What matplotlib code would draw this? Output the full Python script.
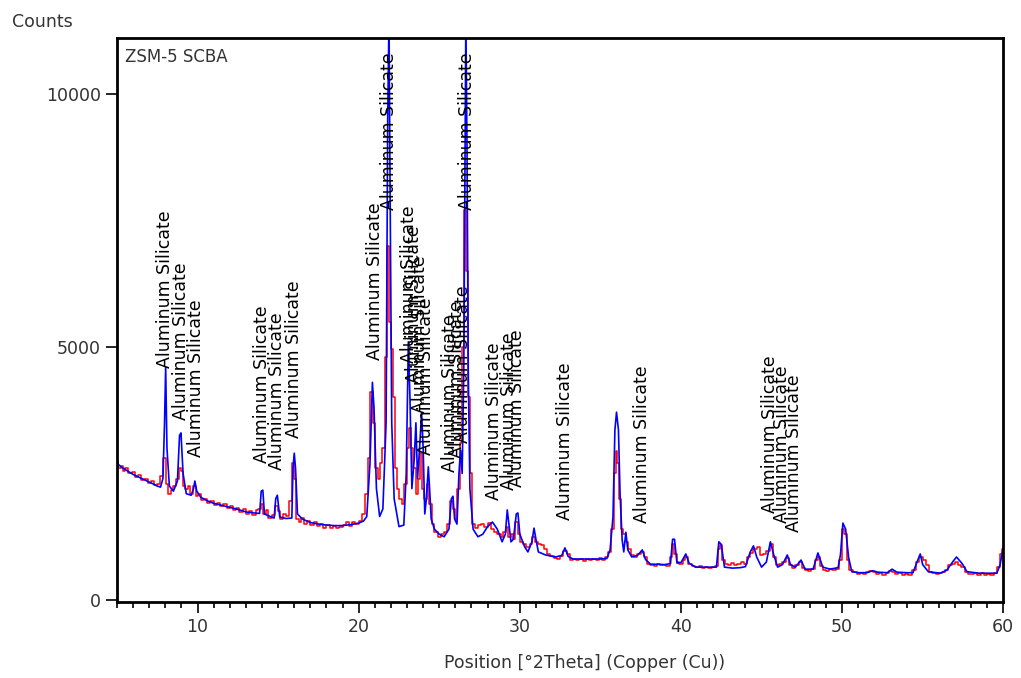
import matplotlib
matplotlib.use("Agg")
import matplotlib.pyplot as plt
from matplotlib.ticker import MultipleLocator

plt.rcParams['font.family'] = ['DejaVu Sans']

# blue pattern (2theta, counts)
blue_2theta = [5.0, 5.3, 5.6, 6.0, 6.4, 6.8, 7.2, 7.5, 7.7, 7.85, 7.95, 8.02, 8.1, 8.25, 8.5, 8.75,
               8.88, 8.97, 9.1, 9.3, 9.6, 9.75, 9.83, 9.95, 10.2, 10.6, 11.0, 11.5, 12.0, 12.5, 13.0,
               13.5, 13.85, 13.95, 14.05, 14.15, 14.5, 14.75, 14.85, 14.95, 15.1, 15.5, 15.85, 15.92,
               16.0, 16.08, 16.2, 16.5, 17.0, 17.5, 18.0, 18.5, 19.0, 19.5, 20.0, 20.3, 20.5, 20.7,
               20.85, 20.95, 21.1, 21.3, 21.5, 21.7, 21.8, 21.88, 21.95, 22.05, 22.2, 22.5, 22.8,
               22.95, 23.08, 23.18, 23.3, 23.45, 23.55, 23.65, 23.78, 23.9, 24.0, 24.1, 24.2, 24.32,
               24.4, 24.5, 24.7, 25.0, 25.3, 25.6, 25.75, 25.85, 25.95, 26.1, 26.22, 26.32, 26.42,
               26.52, 26.6, 26.65, 26.72, 26.8, 26.9, 27.1, 27.4, 27.7, 28.0, 28.3, 28.6, 28.9, 29.1,
               29.22, 29.32, 29.45, 29.6, 29.78, 29.88, 30.0, 30.3, 30.5, 30.75, 30.88, 31.0, 31.15,
               31.6, 32.2, 32.6, 32.8, 33.0, 33.3, 34.0, 35.0, 35.4, 35.6, 35.78, 35.9, 36.0, 36.12,
               36.22, 36.35, 36.45, 36.58, 36.7, 36.95, 37.3, 37.6, 37.8, 38.1, 39.0, 39.35, 39.48,
               39.6, 39.75, 40.0, 40.3, 40.5, 40.9, 41.5, 42.2, 42.35, 42.5, 42.7, 43.2, 43.7, 44.0,
               44.3, 44.5, 44.7, 45.0, 45.3, 45.55, 45.75, 46.0, 46.3, 46.6, 46.8, 47.1, 47.45, 47.7,
               48.2, 48.5, 48.8, 49.25, 49.75, 49.9, 50.05, 50.22, 50.4, 50.6, 51.0, 51.55, 51.9,
               52.2, 52.8, 53.1, 53.4, 54.0, 54.4, 54.65, 54.85, 55.0, 55.35, 56.1, 56.5, 56.9, 57.1,
               57.45, 57.75, 58.5, 59.6, 59.8, 59.95, 60.0]
blue_counts = [2700, 2620, 2560, 2480, 2420, 2360, 2300, 2250, 2230, 2400, 3500, 4600, 3000, 2250, 2150, 2350,
               3250, 3300, 2500, 2100, 2070, 2200, 2350, 2150, 2030, 1960, 1910, 1870, 1830, 1790, 1740,
               1720, 1710, 2150, 2170, 1700, 1650, 1620, 2000, 2070, 1640, 1610, 1620, 2600,
               2900, 2600, 1700, 1600, 1530, 1500, 1480, 1470, 1470, 1490, 1520, 1560, 1650, 2700,
               4300, 3800, 2200, 1650, 1800, 3500, 9500, 11500, 8000, 3500, 2000, 1450, 1480,
               2500, 5100, 4000, 2200, 2800, 3500, 2400, 3000, 3700, 3000, 1700, 2000, 2630,
               2200, 1600, 1400, 1300, 1250, 1400, 2000, 2050, 1600, 1500, 2500, 2960, 2500,
               4500, 9000, 11500, 9000, 4500, 2200, 1400, 1250, 1300, 1450, 1540, 1400, 1150, 1300,
               1780, 1500, 1150, 1200, 1700, 1720, 1300, 1050, 950, 1150, 1420, 1200, 950,
               890, 850, 880, 1030, 860, 810, 810, 810, 820, 990, 1640, 3360, 3710, 3360,
               2100, 1190, 950, 1340, 990, 850, 880, 990, 800, 710, 700, 720, 1200,
               1200, 730, 740, 910, 730, 650, 650, 650, 1150, 1100, 650, 630, 640, 660,
               950, 1070, 850, 650, 750, 1150, 900, 650, 700, 890, 700, 650, 790, 610,
               610, 930, 650, 610, 640, 900, 1520, 1400, 850, 560, 540, 540, 580,
               550, 540, 610, 550, 540, 540, 750, 910, 700, 560, 530, 590, 770, 850,
               720, 560, 530, 530, 690, 950, 1000]

# red pattern (2theta, counts)
red_2theta = [5.0, 5.15, 5.3, 5.45, 5.6, 5.8, 6.0, 6.2, 6.4, 6.6, 6.8, 7.0, 7.2, 7.4, 7.6, 7.75, 7.9,
              8.0, 8.1, 8.25, 8.4, 8.6, 8.75, 8.9, 9.0, 9.15, 9.3, 9.45, 9.6, 9.8, 9.95, 10.1, 10.3,
              10.5, 10.7, 10.9, 11.1, 11.3, 11.5, 11.7, 11.9, 12.1, 12.3, 12.5, 12.7, 12.9, 13.1,
              13.3, 13.5, 13.7, 13.85, 14.0, 14.15, 14.3, 14.5, 14.7, 14.9, 15.05, 15.2, 15.4, 15.6,
              15.8, 15.95, 16.05, 16.2, 16.35, 16.5, 16.7, 16.9, 17.1, 17.3, 17.5, 17.7, 17.9, 18.1,
              18.3, 18.5, 18.7, 18.9, 19.1, 19.3, 19.5, 19.7, 19.9, 20.1, 20.3, 20.5, 20.65, 20.8,
              20.95, 21.1, 21.25, 21.4, 21.55, 21.7, 21.82, 21.92, 22.05, 22.15, 22.3, 22.45, 22.6,
              22.75, 22.9, 23.05, 23.18, 23.3, 23.45, 23.6, 23.75, 23.9, 24.0, 24.15, 24.3, 24.45,
              24.6, 24.8, 25.0, 25.2, 25.4, 25.6, 25.75, 25.9, 26.05, 26.2, 26.35, 26.5, 26.62,
              26.72, 26.82, 26.95, 27.1, 27.3, 27.5, 27.7, 27.9, 28.1, 28.3, 28.5, 28.7, 28.9,
              29.05, 29.2, 29.35, 29.5, 29.65, 29.8, 29.95, 30.1, 30.3, 30.5, 30.7, 30.85, 31.0,
              31.2, 31.4, 31.6, 31.8, 32.0, 32.2, 32.4, 32.6, 32.8, 33.0, 33.2, 33.4, 33.6, 33.8,
              34.0, 34.2, 34.4, 34.6, 34.8, 35.0, 35.2, 35.4, 35.6, 35.75, 35.9, 36.0, 36.1, 36.22,
              36.35, 36.5, 36.65, 36.8, 37.0, 37.2, 37.4, 37.6, 37.8, 38.0, 38.2, 38.4, 38.6, 38.8,
              39.0, 39.2, 39.4, 39.5, 39.65, 39.8, 40.0, 40.2, 40.35, 40.55, 40.8, 41.0, 41.2, 41.4,
              41.6, 41.8, 42.0, 42.2, 42.35, 42.5, 42.65, 42.8, 43.0, 43.2, 43.4, 43.6, 43.8, 44.0,
              44.2, 44.4, 44.6, 44.8, 45.0, 45.2, 45.4, 45.6, 45.8, 46.0, 46.2, 46.4, 46.6, 46.8,
              47.0, 47.2, 47.4, 47.6, 47.8, 48.0, 48.2, 48.4, 48.55, 48.7, 48.9, 49.1, 49.3, 49.5,
              49.7, 49.9, 50.05, 50.2, 50.35, 50.55, 50.8, 51.0, 51.2, 51.4, 51.6, 51.8, 52.0, 52.2,
              52.4, 52.6, 52.8, 53.0, 53.2, 53.4, 53.6, 53.8, 54.0, 54.2, 54.5, 54.7, 54.9, 55.1,
              55.3, 55.5, 55.7, 55.9, 56.1, 56.3, 56.5, 56.7, 56.9, 57.1, 57.3, 57.5, 57.7, 57.9,
              58.1, 58.3, 58.5, 58.7, 58.9, 59.1, 59.3, 59.5, 59.7, 59.9, 60.0]
red_counts = [2750, 2600, 2650, 2550, 2600, 2500, 2520, 2430, 2460, 2380, 2400, 2320, 2350, 2270, 2300, 2450, 2800,
              2800, 2300, 2100, 2180, 2250, 2400, 2600, 2550, 2250, 2200, 2250, 2100, 2250, 2050, 2100, 1980,
              2000, 1920, 1960, 1880, 1920, 1850, 1890, 1820, 1860, 1780, 1820, 1740, 1790, 1700,
              1760, 1680, 1780, 1800, 1900, 1700, 1780, 1620, 1680, 1850, 1750, 1600, 1700, 1650,
              1950, 2700, 2400, 1600, 1550, 1620, 1500, 1560, 1480, 1540, 1460, 1500, 1430, 1480,
              1420, 1460, 1420, 1450, 1480, 1540, 1470, 1550, 1500, 1560, 1700, 2100, 2800, 4100,
              3500, 2600, 2400, 2700, 3000, 4800, 7000, 5500, 4950, 4000, 2600, 2200, 2000,
              1900, 2300, 3000, 3400, 3000, 2600, 2100, 2400, 2900, 2200, 2000, 2300, 1900,
              1500, 1350, 1250, 1300, 1350, 1500, 1950, 1800, 1600, 2200, 3100, 5000, 7700,
              6500, 4000, 2500, 1500, 1430, 1480, 1500, 1450, 1520, 1400, 1350, 1300, 1250,
              1350, 1450, 1250, 1300, 1200, 1550, 1300, 1150, 1100, 1050, 1100, 1250, 1150,
              1100, 1080, 1000, 900, 860, 830, 820, 870, 960, 900, 800, 820, 790, 820,
              780, 810, 790, 820, 800, 830, 800, 850, 950, 1400, 2500, 2950, 2700, 2000,
              1400, 1300, 1150, 1000, 880, 850, 900, 950, 850, 720, 700, 680, 720, 690,
              700, 680, 850, 1100, 900, 760, 720, 800, 850, 720, 670, 650, 680, 640,
              660, 630, 650, 680, 1000, 1080, 800, 720, 700, 740, 700, 720, 760, 720,
              850, 920, 1000, 1050, 880, 900, 960, 1100, 850, 700, 720, 760, 830, 700,
              640, 700, 760, 640, 600, 580, 620, 800, 850, 680, 600, 580, 620, 600,
              620, 800, 1400, 1300, 800, 600, 560, 520, 540, 510, 550, 580, 560, 520,
              540, 500, 530, 580, 560, 520, 540, 500, 520, 500, 600, 750, 850, 800,
              700, 560, 540, 520, 530, 560, 600, 700, 720, 760, 700, 650, 560, 520,
              510, 530, 500, 530, 500, 520, 500, 540, 650, 900, 1000]

# phase labels: peak position and where the text starts
label_2theta = [8.0, 9.0, 9.9, 14.0, 14.9, 16.0, 21.0, 21.85, 23.1, 23.45, 23.8, 24.2,
                25.65, 26.1, 26.45, 26.75, 28.4, 29.3, 29.8, 32.8, 37.6, 45.5, 46.3, 47.0]
label_counts = [4580, 3560, 2830, 2700, 2570, 3200, 4750, 7700, 4680, 4290, 3700, 2870,
                2530, 2800, 3100, 7700, 1980, 2170, 2230, 1580, 1520, 1720, 1520, 1340]
label_text = "Aluminum Silicate"

fig = plt.figure(figsize=(10.21, 6.78), dpi=100)
ax = fig.add_axes([0.1146, 0.112, 0.868, 0.832])

ax.plot(red_2theta, red_counts, color='red', lw=1.1, drawstyle='steps-mid')
ax.plot(blue_2theta, blue_counts, color='blue', lw=1.2)

# labels overlap in the original too, kept as they are
for x, y in zip(label_2theta, label_counts):
    ax.text(x, y, label_text, rotation=90, ha='center', va='bottom',
            fontsize=12.5, color='black', clip_on=True)

ax.set_xlim(5, 60)
ax.set_ylim(-40, 11100)
ax.set_xticks([10, 20, 30, 40, 50, 60])
ax.xaxis.set_minor_locator(MultipleLocator(1))
ax.set_yticks([0, 5000, 10000])
ax.tick_params(axis='both', which='major', direction='out', length=8, width=1.2,
               labelsize=12.5, labelcolor='#333333')
ax.tick_params(axis='x', which='minor', direction='out', length=4, width=1.2)
for s in ax.spines.values():
    s.set_linewidth(2)

ax.text(0.009, 0.966, "ZSM-5 SCBA", transform=ax.transAxes, fontsize=12,
        ha='left', va='center', color='#333333')
fig.text(12 / 1021, 1 - 22 / 678, "Counts", fontsize=12.5, ha='left', va='center', color='#333333')
fig.text(585 / 1021, 1 - 663 / 678, "Position [°2Theta] (Copper (Cu))", fontsize=12.5,
         ha='center', va='center', color='#333333')

fig.savefig("out.png", dpi=100)
